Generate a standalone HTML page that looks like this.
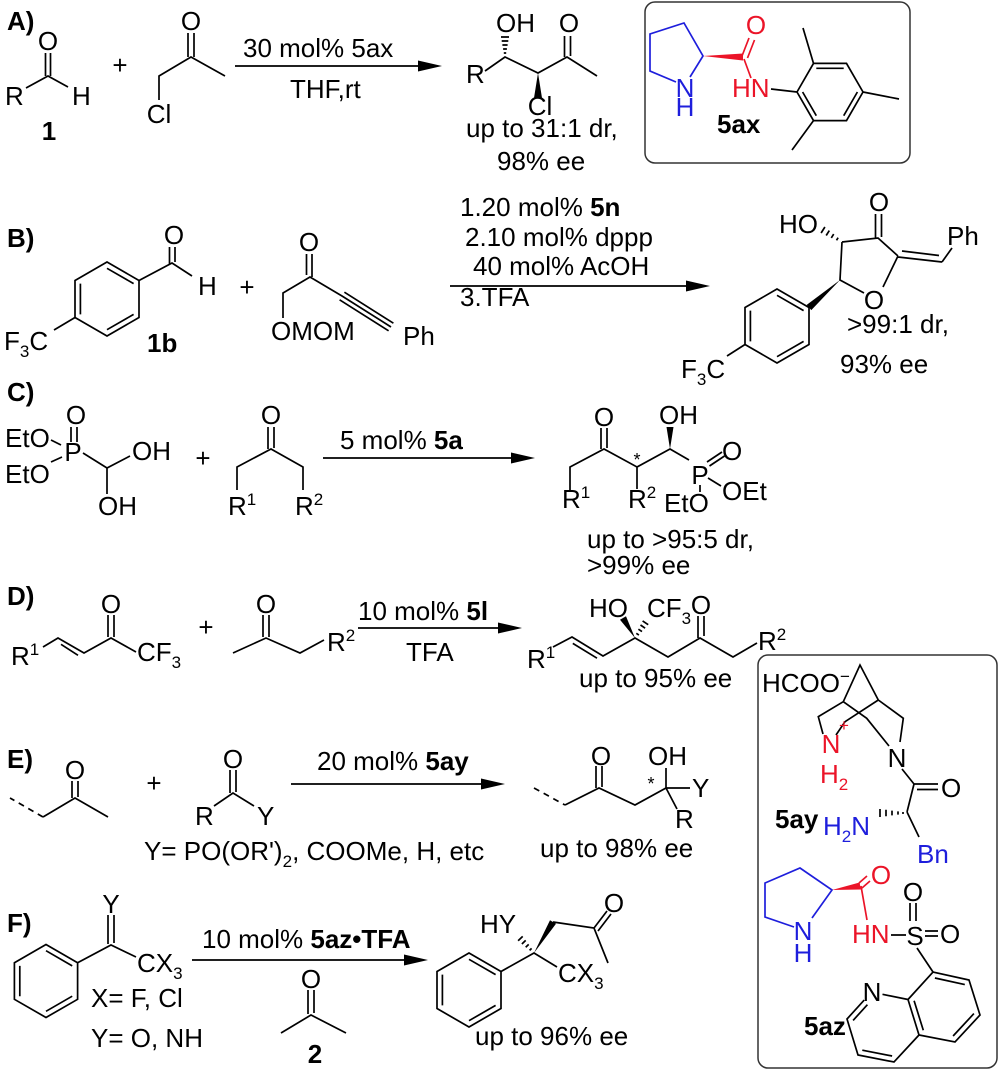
<!DOCTYPE html>
<html><head><meta charset="utf-8"><style>
html,body{margin:0;padding:0;background:#fff;width:1000px;height:1076px;overflow:hidden}
svg{display:block}
text{font-family:"Liberation Sans",Arial,sans-serif;font-size:26px;fill:#000}
.b{font-weight:bold}
.r{fill:#eb1428}
.u{fill:#1e1edc}
.s{font-size:17px}
.st{font-size:18px}
</style></head><body>
<svg width="1000" height="1076" viewBox="0 0 1000 1076" xmlns="http://www.w3.org/2000/svg">
<g stroke="#000" stroke-width="1.7" fill="none">
<!-- A reactants -->
<path d="M45.5,53V76 M50.5,53V76 M26,88L48,76L68,87"/>
<path d="M188,33V57 M194,33V57 M159,100V76L191,57L225,76"/>
<path d="M235,66H420"/>
<!-- A product -->
<path d="M485,71L505,57L538,73L567,57L597,76 M564.5,36V57 M570.5,36V56"/>
<path d="M501,37H509 M501.7,41H508.3 M502.4,45H507.6 M503.1,49H506.9 M503.8,53H506.2"/>
<!-- box 1 -->
<rect x="645" y="2" width="265" height="161" rx="10" stroke="#333" stroke-width="1.5"/>
<path d="M676,82L650,71V34L684,23L703,56L690,77" stroke="#1e1edc"/>
<path d="M742,56L749,38 M747.5,58L754.5,40 M744,59L751,78" stroke="#eb1428"/>
<path d="M771,89L797,92 M797,92L813.5,63.4L846.5,63.4L863,92L846.5,120.6L813.5,120.6Z M813.5,63.4L803,28 M863,92L899,99 M813.5,120.6L792,150 M816.3,68.3H843.7 M857.4,92L843.7,115.7 M816.3,115.7L802.6,92"/>
<!-- B -->
<path d="M169.5,247V264 M175,247V262 M139,280.5L172,263L192,276"/>
<path d="M107,262L139,280.5V317.5L107,336L75,317.5V280.5Z M80.4,283.6V314.4 M107,268.3L133.6,283.6 M133.6,314.4L107,329.7 M75,317.5L54,330"/>
<path d="M306.5,254V275 M312,254V277 M283,318V293L310,277L342,296 M342,296L391,327 M339.6,299.8L388.6,330.8 M344.4,292.2L393.4,323.2"/>
<path d="M450,286H688"/>
<path d="M842,242L878,238L898,256 M883,287L898,256 M864,293L840,280L842,242 M875.5,214V238 M881.5,214V237 M898,257L942,262 M902,251L939,255.5 M942,262L952,248"/>
<path d="M838.1,237.7L836.5,240.3 M833.7,234.1L831.3,237.9 M829.3,230.6L826.2,235.5 M824.9,227L821.1,233"/>
<path d="M777,289L809,307.5V344.5L777,363L745,344.5V307.5Z M750.4,310.6V341.4 M777,295.3L803.6,310.6 M803.6,341.4L777,356.7 M745,344.5L727,356"/>
<!-- C -->
<path d="M71,427V442 M77,427V442 M51,440L61,445 M51,462L62,457 M83,453L107,468L130,456 M107,468V494"/>
<path d="M268,427V449 M274,427V448 M237,490V467L271,449L303,467V490"/>
<path d="M323,458H513"/>
<path d="M601,428V449 M607,428V448 M570,490V467L604,449L637,467L670,449L689,460 M637,467V489 M707,462L722,452 M709.5,466L724.5,456 M708,478L721,486 M700,485V492"/>
<!-- D -->
<path d="M108,615V637 M114,615V637 M136,652L111,638L84,653L58,638L43,647 M61,644.3L78,655.3"/>
<path d="M263,615V637 M269,615V637 M233,653L266,638L300,653L324,640"/>
<path d="M358,628H500"/>
<path d="M553,647L572,637L603,656L635,638L668,657L700,638L733,657L757,643 M572.8,643.4L597,658.2 M698,616V638 M704,616V636"/>
<path d="M636.3,633.3L638.9,635.1 M638.4,629.2L642,631.6 M640.5,625L645.1,628.2 M642.6,620.9L648.2,624.7"/>
<!-- E -->
<path d="M72,781V798 M78,781V797 M108,817L75,798L43,817"/>
<path d="M43,817L10,798 M534,788L565,805" stroke-dasharray="6,5"/>
<path d="M230,770V793 M236,770V792 M214,806L233,793L254,806"/>
<path d="M291,784H483"/>
<path d="M565,805L599,788L635,805L666,788L690,788 M666,788V768 M666,788L677,809 M596,766V788 M602,766V787"/>
<!-- F -->
<path d="M108,915V944 M114,915V943 M136,957L111,945L77.6,962.8"/>
<path d="M46,944.5L77.6,962.8V999.3L46,1017.5L14.4,999.3V962.8Z M19.8,965.9V996.2 M46,950.7L72.2,965.9 M72.2,996.2L46,1011.3"/>
<path d="M192,960H406"/>
<path d="M308,990V1014 M314,990V1013 M281,1033L311,1015L346,1033"/>
<path d="M469,953L501,971.5V1008.5L469,1027L437,1008.5V971.5Z M442.4,974.6V1005.4 M469,959.3L495.6,974.6 M495.6,1005.4L469,1020.7"/>
<path d="M501,971.5L534,953L557,967 M553,922L594,928L608,963 M594,928L607,911 M598,931L611,914"/>
<path d="M529.6,950.4L531.6,948.4 M525.7,947.2L528.7,944.4 M521.9,944L525.7,940.4 M518.1,940.8L522.7,936.4"/>
<!-- box 2 -->
<rect x="758" y="655" width="239" height="413" rx="10" stroke="#333" stroke-width="1.5"/>
<path d="M843.3,701.7L860,665L878.3,700 M843.3,701.7L818.3,716.7L823,734 M843.3,701.7L866.7,718.3L889,746 M878.3,700L903.3,718.3L900,742 M878.3,700L845,721.7L836,735"/>
<path d="M902,769L914,784 M914,784H938 M917,789.5H938 M914,784L907,812 M907,812L919,837"/>
<path d="M880,809V817 M886,809.8V816.2 M892,810.6V815.4 M898,811.4V814.6 M903,812V814"/>
<path d="M794,927L765,917V883L800,868L832,890L812,918" stroke="#1e1edc"/>
<path d="M859,883L867,876 M862,888L870,881 M861,886L867,920" stroke="#eb1428"/>
<path d="M891,935H906 M910,903V921 M916,903V921 M925,931H938 M925,936H938 M917,948L933,972"/>
<path d="M908,999.5L933,972L969,980L980,1015L955,1042L919,1035Z M908,999.5L882.5,994.3 M864.2,1000.1L847,1019L858,1055L894,1062L919,1035 M934.9,978L964.8,984.6 M973.9,1013.6L953.1,1036 M923.3,1030.2L914.1,1000.8 M867.4,1004.7L853.1,1020.4 M862.3,1050.2L892.1,1056"/>
</g>
<g fill="#000">
<polygon points="442,66 418,60.5 418,71.5"/>
<polygon points="538,73 534,98 542,98"/>
<polygon points="710,286 686,280.5 686,291.5"/>
<polygon points="840,280 811.3,310.1 806.7,304.9"/>
<polygon points="535,458 511,452.5 511,463.5"/>
<polygon points="670,449 666.5,427 673.5,427"/>
<polygon points="522,628 498,622.5 498,633.5"/>
<polygon points="635,638 626,616.2 620,619.8"/>
<polygon points="505,784 481,778.5 481,789.5"/>
<polygon points="428,960 404,954.5 404,965.5"/>
<polygon points="534,953 556,923.8 550,920.2"/>
</g>
<polygon points="703,56 743,53.5 743,60.5" fill="#eb1428"/>
<polygon points="832,890 861,889.5 859.5,882.5" fill="#eb1428"/>

<!-- TEXT A -->
<text x="7" y="30" class="b">A)</text>
<text x="48" y="50" text-anchor="middle">O</text>
<text x="5" y="105">R</text>
<text x="72" y="105">H</text>
<text x="49" y="140" class="b" text-anchor="middle">1</text>
<text x="120" y="74" text-anchor="middle">+</text>
<text x="191" y="30" text-anchor="middle">O</text>
<text x="159" y="123" text-anchor="middle">Cl</text>
<text x="243" y="57">30 mol% 5ax</text>
<text x="290" y="98">THF,rt</text>
<text x="496" y="32">OH</text>
<text x="569" y="32" text-anchor="middle">O</text>
<text x="466" y="83">R</text>
<text x="540" y="115" text-anchor="middle">Cl</text>
<text x="466" y="137">up to 31:1 dr,</text>
<text x="497" y="170">98% ee</text>
<text x="685" y="97" text-anchor="middle" class="u">N</text>
<text x="685" y="116" text-anchor="middle" class="u">H</text>
<text x="756" y="34" text-anchor="middle" class="r">O</text>
<text x="732" y="97" class="r">HN</text>
<text x="717" y="133" class="b">5ax</text>

<!-- TEXT B -->
<text x="7" y="247" class="b">B)</text>
<text x="174" y="244" text-anchor="middle">O</text>
<text x="198" y="295">H</text>
<text x="4" y="350">F<tspan class="s" dy="7">3</tspan><tspan dy="-7">C</tspan></text>
<text x="147" y="352" class="b">1b</text>
<text x="247" y="296" text-anchor="middle">+</text>
<text x="309" y="251" text-anchor="middle">O</text>
<text x="271" y="340">OMOM</text>
<text x="403" y="345">Ph</text>
<text x="460" y="216">1.20 mol% <tspan class="b">5n</tspan></text>
<text x="465" y="246">2.10 mol% dppp</text>
<text x="473" y="275">40 mol% AcOH</text>
<text x="460" y="306">3.TFA</text>
<text x="879" y="211" text-anchor="middle">O</text>
<text x="779" y="233">HO</text>
<text x="874" y="309" text-anchor="middle">O</text>
<text x="947" y="245">Ph</text>
<text x="681" y="378">F<tspan class="s" dy="7">3</tspan><tspan dy="-7">C</tspan></text>
<text x="847" y="333">&gt;99:1 dr,</text>
<text x="840" y="373">93% ee</text>

<!-- TEXT C -->
<text x="7" y="401" class="b">C)</text>
<text x="76" y="424" text-anchor="middle">O</text>
<text x="5" y="447">EtO</text>
<text x="73" y="461" text-anchor="middle">P</text>
<text x="5" y="483">EtO</text>
<text x="132" y="460">OH</text>
<text x="98" y="515">OH</text>
<text x="203" y="467" text-anchor="middle">+</text>
<text x="271" y="424" text-anchor="middle">O</text>
<text x="228" y="515">R<tspan class="s" dy="-10">1</tspan></text>
<text x="295" y="515">R<tspan class="s" dy="-10">2</tspan></text>
<text x="340" y="449">5 mol% <tspan class="b">5a</tspan></text>
<text x="604" y="426" text-anchor="middle">O</text>
<text x="659" y="424">OH</text>
<text x="562" y="508">R<tspan class="s" dy="-10">1</tspan></text>
<text x="628" y="508">R<tspan class="s" dy="-10">2</tspan></text>
<text x="637" y="466" text-anchor="middle" class="st">*</text>
<text x="700" y="484" text-anchor="middle">P</text>
<text x="722" y="460">O</text>
<text x="722" y="500">OEt</text>
<text x="664" y="512">EtO</text>
<text x="587" y="548">up to &gt;95:5 dr,</text>
<text x="587" y="574">&gt;99% ee</text>

<!-- TEXT D -->
<text x="7" y="605" class="b">D)</text>
<text x="111" y="613" text-anchor="middle">O</text>
<text x="137" y="661">CF<tspan class="s" dy="7">3</tspan></text>
<text x="11" y="665">R<tspan class="s" dy="-10">1</tspan></text>
<text x="206" y="636" text-anchor="middle">+</text>
<text x="266" y="613" text-anchor="middle">O</text>
<text x="327" y="651">R<tspan class="s" dy="-10">2</tspan></text>
<text x="358" y="620">10 mol% <tspan class="b">5l</tspan></text>
<text x="406" y="661">TFA</text>
<text x="527" y="668">R<tspan class="s" dy="-10">1</tspan></text>
<text x="589" y="617">HO</text>
<text x="647" y="617">CF<tspan class="s" dy="7">3</tspan></text>
<text x="701" y="614" text-anchor="middle">O</text>
<text x="758" y="650">R<tspan class="s" dy="-10">2</tspan></text>
<text x="579" y="687">up to 95% ee</text>

<!-- TEXT E -->
<text x="7" y="768" class="b">E)</text>
<text x="75" y="779" text-anchor="middle">O</text>
<text x="154" y="792" text-anchor="middle">+</text>
<text x="233" y="768" text-anchor="middle">O</text>
<text x="195" y="825">R</text>
<text x="257" y="825">Y</text>
<text x="144" y="860">Y= PO(OR')<tspan class="s" dy="7">2</tspan><tspan dy="-7">, COOMe, H, etc</tspan></text>
<text x="317" y="770">20 mol% <tspan class="b">5ay</tspan></text>
<text x="601" y="765" text-anchor="middle">O</text>
<text x="648" y="765">OH</text>
<text x="651" y="790" text-anchor="middle" class="st">*</text>
<text x="692" y="797">Y</text>
<text x="675" y="828">R</text>
<text x="540" y="857">up to 98% ee</text>

<!-- TEXT F -->
<text x="7" y="932" class="b">F)</text>
<text x="111" y="913" text-anchor="middle">Y</text>
<text x="137" y="972">CX<tspan class="s" dy="7">3</tspan></text>
<text x="91" y="1007">X= F, Cl</text>
<text x="91" y="1047">Y= O, NH</text>
<text x="202" y="948">10 mol% <tspan class="b">5az•TFA</tspan></text>
<text x="311" y="988" text-anchor="middle">O</text>
<text x="315" y="1063" class="b" text-anchor="middle">2</text>
<text x="480" y="933">HY</text>
<text x="614" y="912" text-anchor="middle">O</text>
<text x="558" y="982">CX<tspan class="s" dy="7">3</tspan></text>
<text x="475" y="1045">up to 96% ee</text>

<!-- box 2 text -->
<text x="762" y="692">HCOO<tspan class="s" dy="-10">−</tspan></text>
<text x="831" y="753" text-anchor="middle" class="r">N</text>
<text x="839" y="731" class="r s">+</text>
<text x="820" y="783" class="r">H<tspan class="s" dy="7">2</tspan></text>
<text x="897" y="767" text-anchor="middle">N</text>
<text x="941" y="797">O</text>
<text x="775" y="828" class="b">5ay</text>
<text x="823" y="835" class="u">H<tspan class="s" dy="7">2</tspan><tspan dy="-7">N</tspan></text>
<text x="917" y="863" class="u">Bn</text>
<text x="803" y="940" text-anchor="middle" class="u">N</text>
<text x="803" y="962" text-anchor="middle" class="u">H</text>
<text x="881" y="884" text-anchor="middle" class="r">O</text>
<text x="852" y="943" class="r">HN</text>
<text x="915" y="945" text-anchor="middle">S</text>
<text x="913" y="901" text-anchor="middle">O</text>
<text x="940" y="943">O</text>
<text x="872" y="1001" text-anchor="middle">N</text>
<text x="804" y="1035" class="b">5az</text>
</svg>
</body></html>
